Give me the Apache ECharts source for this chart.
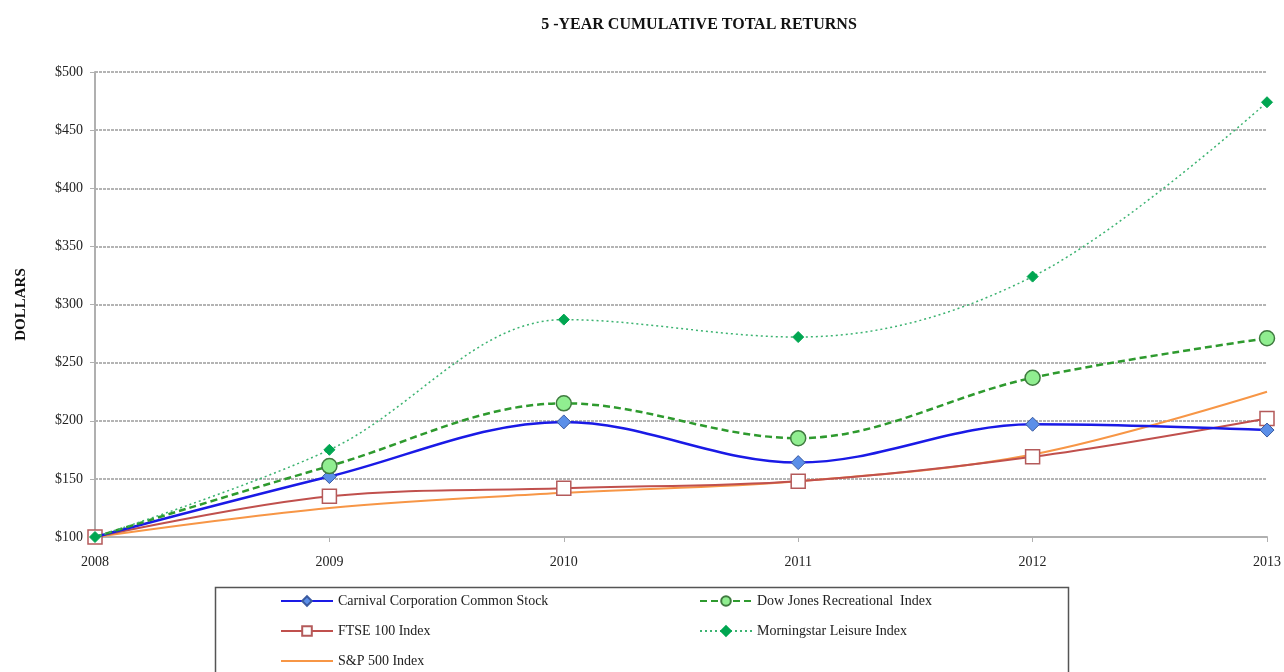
<!DOCTYPE html>
<html>
<head>
<meta charset="utf-8">
<script src="https://cdn.jsdelivr.net/npm/echarts@6/dist/echarts.min.js"></script>
<style>
  html, body { margin: 0; padding: 0; background: #fff; }
  #chart { width: 1284px; height: 672px; }
</style>
</head>
<body>
<div id="chart"></div>
<script>
const years = ["2008", "2009", "2010", "2011", "2012", "2013"];
const carnival = [100, 152, 199, 164, 197, 192];
const dowJones = [100, 161, 215, 185, 237, 271];
const ftse = [100, 135, 142, 148, 169, 202];
const morningstar = [100, 175, 287, 272, 324, 474];
const sp500 = [100, 125, 138, 148, 171, 225];

const serif = "'Liberation Serif', 'Times New Roman', serif";
const chart = echarts.init(document.getElementById("chart"), null, { renderer: "canvas" });

// first point of these two series has no visible marker in the original
const hideFirst = (arr) => arr.map((v, i) => (i === 0 ? { value: v, symbolSize: 0 } : v));

// one legend per entry so the two-column box layout can be placed exactly
const legendItem = (item, left, top) => ({
  left,
  top,
  padding: 0,
  itemWidth: 52,
  itemHeight: 12,
  data: [item],
  textStyle: { fontFamily: serif, fontSize: 14, color: "#222" },
});

chart.setOption({
  backgroundColor: "#fff",
  animation: false,
  title: {
    text: "5 -YEAR CUMULATIVE TOTAL RETURNS",
    left: 694,
    textAlign: "center",
    top: 12,
    textStyle: { fontFamily: serif, fontSize: 16, fontWeight: "bold", color: "#111" },
  },
  grid: { left: 95, right: 17, top: 72, bottom: 135 },
  xAxis: {
    type: "category",
    data: years,
    boundaryGap: false,
    axisLine: { lineStyle: { color: "#b0b0b0", width: 2 } },
    axisTick: { alignWithLabel: true, length: 5, lineStyle: { color: "#b0b0b0" } },
    axisLabel: { fontFamily: serif, fontSize: 14, color: "#222", margin: 18 },
  },
  yAxis: {
    type: "value",
    min: 100,
    max: 500,
    interval: 50,
    name: "DOLLARS",
    nameLocation: "middle",
    nameGap: 66,
    nameTextStyle: { fontFamily: serif, fontSize: 15, fontWeight: "bold", color: "#111" },
    axisLine: { show: true, lineStyle: { color: "#b0b0b0", width: 2 } },
    axisTick: { show: true, length: 5, lineStyle: { color: "#b0b0b0" } },
    axisLabel: { fontFamily: serif, fontSize: 14, color: "#222", margin: 12, formatter: "${value}" },
    splitLine: { lineStyle: { color: "#b4b4b4", type: [3, 1], width: 2 } },
  },
  graphic: [
    {
      type: "rect",
      left: 213,
      top: 585,
      shape: { width: 853, height: 100 },
      style: { fill: "none", stroke: "#555", lineWidth: 1.5 },
    },
  ],
  legend: [
    legendItem("Carnival Corporation Common Stock", 280, 594),
    legendItem("FTSE 100 Index", 280, 624),
    legendItem({ name: "S&P 500 Index", itemStyle: { opacity: 0 } }, 280, 654),
    legendItem("Dow Jones Recreational  Index", 699, 594),
    legendItem("Morningstar Leisure Index", 699, 624),
  ],
  series: [
    {
      name: "S&P 500 Index",
      type: "line",
      data: sp500,
      smooth: 0.35,
      symbol: "none",
      lineStyle: { color: "#f79646", width: 2 },
      itemStyle: { color: "#f79646" },
      z: 2,
    },
    {
      name: "FTSE 100 Index",
      type: "line",
      data: ftse,
      smooth: 0.35,
      symbol: "rect",
      symbolSize: 14,
      lineStyle: { color: "#c0504d", width: 2 },
      itemStyle: { color: "#fff", borderColor: "#b45a5a", borderWidth: 1.5 },
      z: 3,
    },
    {
      name: "Carnival Corporation Common Stock",
      type: "line",
      data: hideFirst(carnival),
      smooth: 0.35,
      symbol: "diamond",
      symbolSize: 14,
      lineStyle: { color: "#1a1ae6", width: 2.5 },
      itemStyle: { color: "#5b8fe8", borderColor: "#3a5aa0", borderWidth: 1 },
      z: 4,
    },
    {
      name: "Dow Jones Recreational  Index",
      type: "line",
      data: hideFirst(dowJones),
      smooth: 0.35,
      symbol: "circle",
      symbolSize: 15,
      lineStyle: { color: "#2e9a2e", width: 2.5, type: [7, 4] },
      itemStyle: { color: "#90ee90", borderColor: "#3f7a3f", borderWidth: 1.5 },
      z: 5,
    },
    {
      name: "Morningstar Leisure Index",
      type: "line",
      data: morningstar,
      smooth: 0.35,
      symbol: "diamond",
      symbolSize: 11,
      lineStyle: { color: "#3cb371", width: 1.5, type: [2, 3] },
      itemStyle: { color: "#00a651", borderColor: "#00a651", borderWidth: 1 },
      z: 6,
    },
  ],
});

window.addEventListener("resize", () => chart.resize());
</script>
</body>
</html>
